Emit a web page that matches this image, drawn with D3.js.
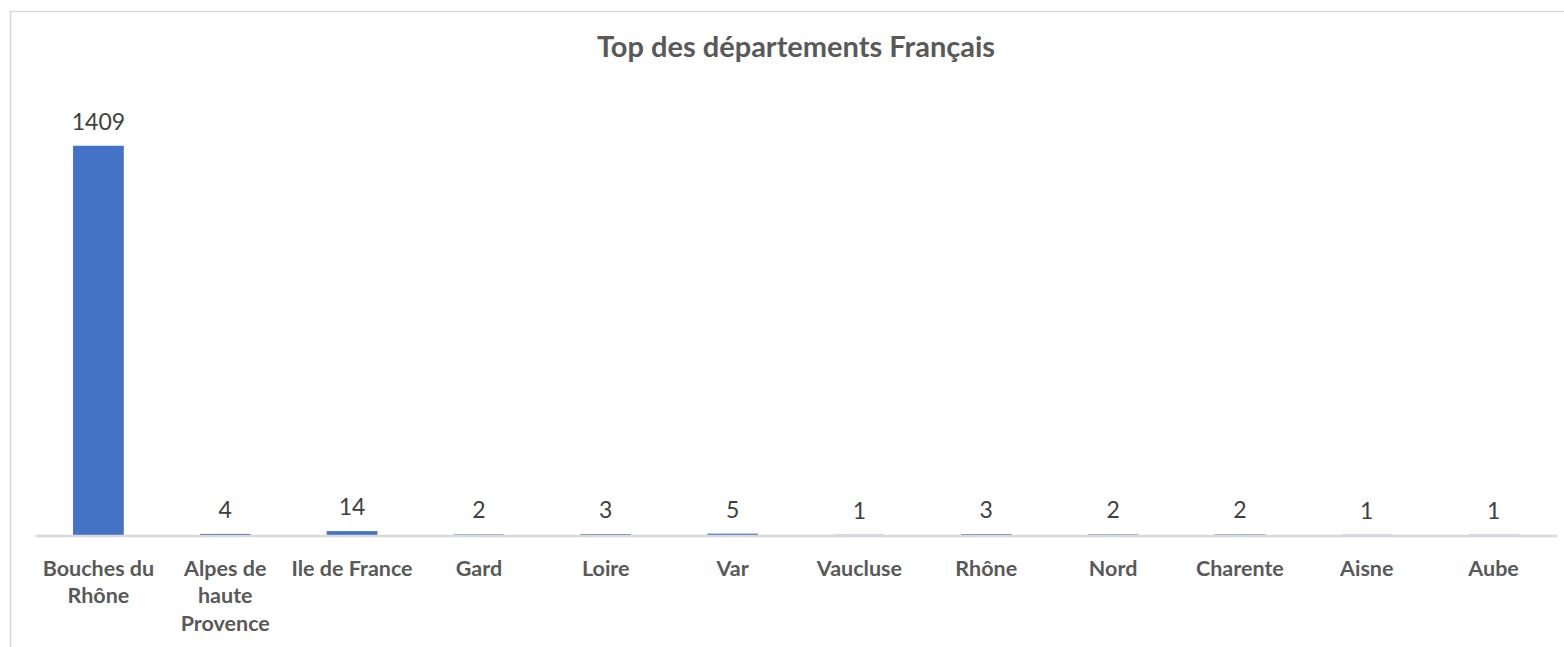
<!DOCTYPE html>
<html>
<head>
<meta charset="utf-8">
<script src="https://cdn.jsdelivr.net/npm/d3@7"></script>
<style>
  body { margin: 0; background: #fff; }
  svg { display: block; }
</style>
</head>
<body>
<svg id="chart"></svg>
<script>
// departements chart

var categories = ['Bouches du Rhône', 'Alpes de haute Provence', 'Ile de France', 'Gard', 'Loire', 'Var', 'Vaucluse', 'Rhône', 'Nord', 'Charente', 'Aisne', 'Aube']
var values = [1409, 4, 14, 2, 3, 5, 1, 3, 2, 2, 1, 1]
// category labels as they wrap in the original
var tickLabels = [['Bouches du', 'Rhône'], ['Alpes de', 'haute', 'Provence'], ['Ile de France'], ['Gard'], ['Loire'], ['Var'], ['Vaucluse'], ['Rhône'], ['Nord'], ['Charente'], ['Aisne'], ['Aube']]
var title = 'Top des départements Français'

var W = 1564, H = 647
var font = 'Lato, "Open Sans", sans-serif'

var svg = d3.select('#chart')
    .attr('width', W)
    .attr('height', H)

// chart border (runs off the right and bottom of the picture)
svg.append('rect')
    .attr('x', 10.5)
    .attr('y', 11.5)
    .attr('width', 1700)
    .attr('height', 800)
    .attr('fill', 'none')
    .attr('stroke', '#d9d9d9')
    .attr('stroke-width', 1.5)

var plot = { left: 35, right: 1557, top: 93, bottom: 535 }

var x = d3.scaleBand()
    .domain(categories)
    .range([plot.left, plot.right])
    .paddingInner(0.6)
    .paddingOuter(0.3)

var y = d3.scaleLinear()
    .domain([0, 1600])
    .range([plot.bottom, plot.top])

svg.append('text')
    .attr('x', (plot.left + plot.right) / 2)
    .attr('y', 57)
    .attr('text-anchor', 'middle')
    .style('font-family', font)
    .style('font-weight', 'bold')
    .style('font-size', '29px')
    .style('fill', '#595959')
    .text(title)

svg.selectAll('rect.bar')
    .data(values)
    .join('rect')
    .attr('class', 'bar')
    .attr('x', (d, i) => x(categories[i]))
    .attr('width', x.bandwidth())
    .attr('y', d => y(d))
    .attr('height', d => y(0) - y(d))
    .attr('fill', '#4472c4')

// x axis, only the line and the labels, drawn over the bars
var xAxis = d3.axisBottom(x).tickSize(0).tickFormat('')
var gx = svg.append('g')
    .attr('transform', 'translate(0,' + (plot.bottom + 0.5) + ')')
    .call(xAxis)
gx.select('.domain')
    .attr('stroke', '#d9d9d9')
    .attr('stroke-width', 2.5)

gx.selectAll('.tick text').remove()
gx.selectAll('.tick')
    .append('text')
    .attr('text-anchor', 'middle')
    .style('font-family', font)
    .style('font-weight', 'bold')
    .style('font-size', '21.5px')
    .style('fill', '#595959')
    .selectAll('tspan')
    .data((d, i) => tickLabels[i])
    .join('tspan')
    .attr('x', 0)
    .attr('y', (d, i) => 40 + i * 27.5)
    .text(d => d)

svg.selectAll('text.value')
    .data(values)
    .join('text')
    .attr('class', 'value')
    .attr('x', (d, i) => x(categories[i]) + x.bandwidth() / 2)
    .attr('y', d => y(d) - 16)
    .attr('text-anchor', 'middle')
    .style('font-family', font)
    .style('font-size', '23px')
    .style('fill', '#404040')
    .text(d => d)
</script>
</body>
</html>
